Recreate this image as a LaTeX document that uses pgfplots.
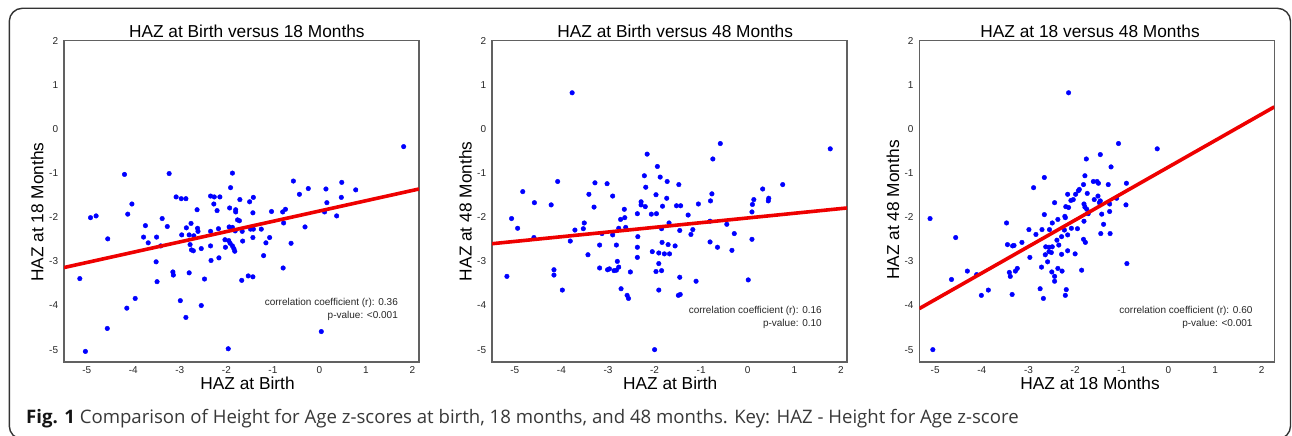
\documentclass[border=0pt]{standalone}
\usepackage{fontspec}
\setmainfont{Liberation Sans}
\newfontfamily\capfont{Open Sans}
\usepackage{pgfplots}
\pgfplotsset{compat=1.18}
\definecolor{fitred}{RGB}{238,0,0}
\pgfplotsset{
 hazax/.style={
  scale only axis, width=355pt, height=321.3pt, anchor=south west,
  clip mode=individual,
  ymin=-5.28, ymax=2,
  xtick={-5,-4,-3,-2,-1,0,1,2}, xticklabels={-5,-4,-3,-2,-1,0,1,2},
  ytick={-5,-4,-3,-2,-1,0,1,2}, yticklabels={-5,-4,-3,-2,-1,0,1,2},
  major tick length=0pt, tick style={draw=none},
  axis line style={draw=black!62, line width=1.3pt},
  tick label style={font=\fontsize{10}{12}\selectfont, text=black!85},
  xticklabel style={anchor=north, inner sep=0pt, yshift=-4.5pt},
  yticklabel style={anchor=east, inner sep=0pt, xshift=-5.7pt},
 },
 dots/.style={only marks, mark=*, mark size=2.3pt, color=blue, mark options={draw=none, fill=blue}},
 fit/.style={no marks, line width=3.6pt, color=fitred},
}
\newcommand{\ttl}{\fontsize{17.3}{20}\selectfont}
\newcommand{\smt}{\fontsize{10}{12}\selectfont}
\begin{document}
\begin{tikzpicture}
\useasboundingbox (0,0) rectangle (1292pt,436pt);
\clip (0,0) rectangle (1292pt,436pt);
\draw[black!80, line width=1.4pt, rounded corners=13pt] (9.3pt,-3pt) rectangle (1290.5pt,427.7pt);

% Panel 1
\begin{axis}[hazax, at={(64pt,74pt)}, xmin=-5.49, xmax=2.14]
\addplot[dots] coordinates {
(1.81,-0.40) (-4.19,-1.03) (-3.23,-1.01) (-1.87,-1.00) (-0.56,-1.18) (-1.91,-1.33)
(0.48,-1.21) (0.78,-1.38) (-0.24,-1.35) (0.14,-1.36) (-0.43,-1.48) (0.47,-1.55)
(-3.08,-1.54) (-2.97,-1.58) (-2.87,-1.58) (-2.34,-1.52) (-2.26,-1.54) (-2.14,-1.54)
(-1.42,-1.55) (-1.50,-1.65) (-1.71,-1.60) (-2.27,-1.70) (-4.03,-1.70) (0.16,-1.67)
(-2.63,-1.83) (-2.20,-1.85) (-1.93,-1.79) (-1.80,-1.83) (-1.80,-1.88) (-1.43,-1.90)
(-1.03,-1.87) (-0.79,-1.88) (-0.73,-1.82) (0.11,-1.88) (0.37,-1.97) (-4.12,-1.93)
(-4.92,-2.01) (-4.80,-1.97) (-3.38,-2.03) (-1.76,-2.06) (-1.72,-2.08) (-0.77,-2.13)
(-3.74,-2.19) (-3.27,-2.21) (-2.86,-2.24) (-2.76,-2.14) (-2.62,-2.25) (-2.17,-2.26)
(-2.34,-2.32) (-2.61,-2.32) (-1.94,-2.22) (-1.87,-2.23) (-1.81,-2.31) (-1.66,-2.32)
(-1.48,-2.27) (-1.42,-2.27) (-1.25,-2.27) (-0.31,-2.22) (-3.78,-2.45) (-3.50,-2.45)
(-3.68,-2.58) (-3.41,-2.65) (-4.55,-2.49) (-2.96,-2.40) (-2.80,-2.40) (-2.70,-2.42)
(-2.78,-2.62) (-2.75,-2.74) (-2.71,-2.76) (-2.54,-2.71) (-2.34,-2.65) (-2.03,-2.51)
(-1.95,-2.53) (-1.92,-2.59) (-1.87,-2.65) (-1.84,-2.71) (-1.82,-2.77) (-2.02,-2.68)
(-1.65,-2.54) (-1.43,-2.46) (-1.15,-2.58) (-1.07,-2.46) (-0.61,-2.59) (-1.20,-2.87)
(-2.16,-2.92) (-2.33,-2.98) (-3.51,-3.01) (-3.49,-3.46) (-3.15,-3.24) (-3.14,-3.31)
(-2.80,-3.26) (-2.47,-3.40) (-1.67,-3.43) (-1.53,-3.33) (-1.43,-3.35) (-0.78,-3.15)
(-5.15,-3.39) (-3.96,-3.84) (-4.14,-4.06) (-2.99,-3.89) (-2.54,-4.00) (-2.87,-4.27)
(-4.56,-4.52) (0.04,-4.59) (-1.96,-4.98) (-5.03,-5.04)
};
\addplot[fit] coordinates {(-5.49,-3.14) (2.14,-1.36)};
\node[anchor=base, inner sep=0pt] at (axis description cs:0.515,1.0093) {\ttl HAZ at Birth versus 18 Months};
\node[anchor=base, inner sep=0pt] at (axis description cs:0.517,-0.0871) {\ttl HAZ at Birth};
\node[anchor=base, rotate=90, inner sep=0pt] at (axis description cs:-0.0578,0.466) {\ttl HAZ at 18 Months};
\node[anchor=base east, inner sep=0pt, text=black!85] at (axis description cs:0.941,0.1758) {\smt correlation coefficient (r): 0.36};
\node[anchor=base east, inner sep=0pt, text=black!85] at (axis description cs:0.941,0.1354) {\smt p-value: <0.001};
\end{axis}

% Panel 2
\begin{axis}[hazax, at={(492pt,74pt)}, xmin=-5.49, xmax=2.13]
\addplot[dots] coordinates {
(-3.77,0.82) (-0.59,-0.33) (1.77,-0.45) (-0.75,-0.68) (-2.16,-0.57) (-1.94,-0.85)
(-2.22,-1.06) (-1.88,-1.09) (-1.73,-1.19) (-1.48,-1.26) (-4.08,-1.19) (-3.28,-1.22)
(-3.02,-1.24) (0.75,-1.26) (0.32,-1.36) (-4.83,-1.42) (-2.19,-1.32) (-1.97,-1.49)
(-2.90,-1.52) (-3.41,-1.48) (-0.77,-1.47) (-1.74,-1.57) (0.13,-1.60) (0.45,-1.57)
(0.44,-1.63) (-4.58,-1.67) (-4.22,-1.72) (-3.30,-1.77) (-2.29,-1.65) (-2.29,-1.72)
(-2.20,-1.76) (-1.83,-1.75) (-1.53,-1.74) (-1.44,-1.74) (-1.06,-1.70) (-0.80,-1.63)
(0.10,-1.71) (0.09,-1.88) (-2.65,-1.82) (-2.37,-1.92) (-2.07,-1.93) (-1.96,-1.92)
(-1.28,-1.95) (-5.07,-2.03) (-2.64,-2.01) (-2.73,-2.05) (-3.51,-2.13) (-3.53,-2.26)
(-1.69,-2.13) (-0.81,-2.09) (-0.45,-2.16) (-4.94,-2.25) (-3.71,-2.29) (-2.62,-2.23)
(-2.77,-2.25) (-1.85,-2.26) (-1.46,-2.30) (-1.18,-2.28) (-0.29,-2.37) (-4.59,-2.46)
(-3.81,-2.54) (-3.13,-2.37) (-2.90,-2.40) (-2.36,-2.44) (-1.22,-2.39) (0.09,-2.50)
(-1.84,-2.57) (-1.71,-2.62) (-1.56,-2.65) (-3.18,-2.63) (-2.82,-2.63) (-2.37,-2.68)
(-0.65,-2.68) (-0.81,-2.56) (-2.05,-2.78) (-1.91,-2.81) (-1.79,-2.83) (-1.68,-2.83)
(-0.34,-2.75) (-3.43,-2.85) (-2.37,-2.91) (-2.80,-3.00) (-1.91,-3.05) (-3.18,-3.15)
(-3.01,-3.19) (-2.97,-3.17) (-2.87,-3.21) (-2.82,-3.20) (-2.77,-3.13) (-4.16,-3.19)
(-4.16,-3.31) (-5.17,-3.34) (-2.52,-3.24) (-1.97,-3.23) (-1.85,-3.21) (-1.46,-3.36)
(-1.11,-3.45) (0.01,-3.42) (-3.98,-3.65) (-2.72,-3.62) (-2.59,-3.77) (-2.56,-3.84)
(-1.91,-3.65) (-1.49,-3.77) (-1.45,-3.75) (-2.00,-5.00)
};
\addplot[fit] coordinates {(-5.49,-2.60) (2.13,-1.79)};
\node[anchor=base, inner sep=0pt] at (axis description cs:0.516,1.0093) {\ttl HAZ at Birth versus 48 Months};
\node[anchor=base, inner sep=0pt] at (axis description cs:0.502,-0.0871) {\ttl HAZ at Birth};
\node[anchor=base, rotate=90, inner sep=0pt] at (axis description cs:-0.0572,0.469) {\ttl HAZ at 48 Months};
\node[anchor=base east, inner sep=0pt, text=black!85] at (axis description cs:0.9295,0.1494) {\smt correlation coefficient (r): 0.16};
\node[anchor=base east, inner sep=0pt, text=black!85] at (axis description cs:0.9295,0.109) {\smt p-value: 0.10};
\end{axis}

% Panel 3
\begin{axis}[hazax, at={(919.3pt,74pt)}, xmin=-5.34, xmax=2.27]
\addplot[dots] coordinates {
(-2.14,0.82) (-1.07,-0.33) (-0.24,-0.45) (-1.46,-0.58) (-1.76,-0.68) (-1.23,-0.86)
(-2.66,-1.10) (-1.79,-1.06) (-1.61,-1.19) (-1.53,-1.19) (-1.50,-1.23) (-1.29,-1.26)
(-0.90,-1.23) (-2.89,-1.33) (-1.82,-1.26) (-1.91,-1.37) (-1.93,-1.40) (-2.16,-1.48)
(-1.99,-1.48) (-1.74,-1.46) (-2.04,-1.60) (-2.09,-1.62) (-1.51,-1.52) (-1.46,-1.63)
(-1.48,-1.67) (-2.44,-1.67) (-1.59,-1.60) (-1.11,-1.57) (-1.26,-1.70) (-0.91,-1.72)
(-2.20,-1.76) (-2.14,-1.78) (-1.81,-1.70) (-1.79,-1.77) (-1.75,-1.82) (-1.72,-1.92)
(-1.43,-1.93) (-1.26,-1.87) (-2.66,-1.94) (-2.22,-1.98) (-2.21,-2.01) (-2.37,-2.05)
(-5.11,-2.03) (-3.47,-2.13) (-1.81,-2.09) (-2.49,-2.13) (-1.39,-2.16) (-2.08,-2.25)
(-1.95,-2.26) (-2.55,-2.28) (-2.71,-2.28) (-2.99,-2.28) (-2.84,-2.39) (-2.23,-2.29)
(-2.16,-2.40) (-2.29,-2.44) (-1.25,-2.37) (-1.45,-2.37) (-4.56,-2.46) (-2.39,-2.52)
(-1.82,-2.50) (-1.78,-2.57) (-3.14,-2.57) (-3.45,-2.62) (-3.34,-2.65) (-3.31,-2.64)
(-2.63,-2.67) (-2.56,-2.68) (-2.49,-2.67) (-2.35,-2.63) (-2.16,-2.76) (-2.64,-2.85)
(-2.56,-2.78) (-2.51,-2.80) (-2.29,-2.84) (-2.00,-2.83) (-2.97,-2.91) (-2.59,-3.01)
(-2.72,-3.13) (-2.37,-3.16) (-2.28,-3.22) (-2.50,-3.24) (-1.86,-3.20) (-4.31,-3.22)
(-4.11,-3.30) (-4.65,-3.41) (-3.24,-3.16) (-3.28,-3.22) (-3.41,-3.25) (-3.39,-3.34)
(-2.44,-3.34) (-2.44,-3.45) (-0.89,-3.05) (-2.75,-3.62) (-2.19,-3.64) (-3.86,-3.65)
(-4.01,-3.77) (-3.35,-3.75) (-2.68,-3.84) (-2.21,-3.77) (-5.05,-5.00)
};
\addplot[fit] coordinates {(-5.34,-4.07) (2.27,0.50)};
\node[anchor=base, inner sep=0pt] at (axis description cs:0.481,1.0093) {\ttl HAZ at 18 versus 48 Months};
\node[anchor=base, inner sep=0pt] at (axis description cs:0.481,-0.0871) {\ttl HAZ at 18 Months};
\node[anchor=base, rotate=90, inner sep=0pt] at (axis description cs:-0.0572,0.473) {\ttl HAZ at 48 Months};
\node[anchor=base east, inner sep=0pt, text=black!85] at (axis description cs:0.939,0.1494) {\smt correlation coefficient (r): 0.60};
\node[anchor=base east, inner sep=0pt, text=black!85] at (axis description cs:0.939,0.109) {\smt p-value: <0.001};
\end{axis}

\node[anchor=base west, inner sep=0pt, text=black!78] at (26pt,12.7pt)
 {\capfont\fontsize{18.6}{22}\selectfont{\bfseries\color{black!92}Fig. 1} Comparison of Height for Age z-scores at birth, 18 months, and 48 months. Key: HAZ - Height for Age z-score};
\end{tikzpicture}
\end{document}
